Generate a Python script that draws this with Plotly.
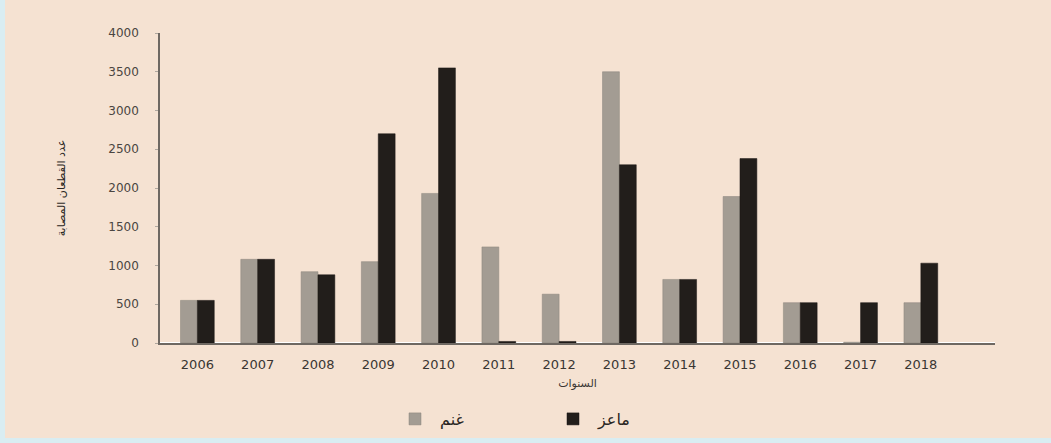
import plotly.graph_objects as go

years = ["2006", "2007", "2008", "2009", "2010", "2011", "2012",
         "2013", "2014", "2015", "2016", "2017", "2018"]
sheep = [550, 1080, 920, 1050, 1930, 1240, 630, 3500, 820, 1890, 520, 10, 520]
goats = [550, 1080, 880, 2700, 3550, 20, 20, 2300, 820, 2380, 520, 520, 1030]
y_ticks = [0, 500, 1000, 1500, 2000, 2500, 3000, 3500, 4000]

bg = "#f5e2d2"
L, R, T, B = 160, 56, 33, 100
PW, PH = 1051 - L - R, 443 - T - B

fig = go.Figure()
fig.add_trace(go.Bar(x=years, y=sheep, name="غنم",
                     marker=dict(color="#a39c93", line=dict(color="#8a847c", width=0.5))))
fig.add_trace(go.Bar(x=years, y=goats, name="ماعز",
                     marker=dict(color="#221e1b", line=dict(color="#1a1714", width=0.5))))

fig.update_layout(
    width=1051, height=443,
    margin=dict(l=L, r=R, t=T, b=B, autoexpand=False),
    paper_bgcolor=bg, plot_bgcolor=bg,
    barmode="group", bargap=0.44, bargroupgap=0,
    font=dict(family="DejaVu Sans, sans-serif", color="#3a3633", size=12),
    showlegend=True,
    legend=dict(orientation="h", x=(390 - L) / PW, xanchor="left",
                y=-(402 - (T + PH)) / PH, yanchor="top",
                font=dict(size=16, color="#2a2623"), bgcolor="rgba(0,0,0,0)",
                itemwidth=40, entrywidth=103, traceorder="normal"),
    xaxis=dict(type="category", range=[-0.62, 13.23], showgrid=False,
               showline=True, linecolor="#6e6862", linewidth=1.5,
               ticks="", ticklabelstandoff=9,
               tickfont=dict(size=13, color="#3a3633"),
               title=dict(text="السنوات", font=dict(size=11, color="#3a3633"), standoff=8)),
    yaxis=dict(range=[0, 4000], tickvals=y_ticks, showgrid=False,
               showline=True, linecolor="#6e6862", linewidth=1.5,
               ticks="outside", ticklen=3, tickcolor="#b0a89f",
               ticklabelstandoff=14,
               tickfont=dict(size=12, color="#4a4541"),
               title=dict(text="عدد القطعان المصابة", font=dict(size=11, color="#2a2623"), standoff=40)),
)

# light blue decorative edges of the page
fig.add_shape(type="rect", xref="paper", yref="paper",
              x0=-L / PW, x1=-(L - 5) / PW, y0=-B / PH, y1=1 + T / PH,
              fillcolor="#d9edf2", line=dict(width=0), layer="below")
fig.add_shape(type="rect", xref="paper", yref="paper",
              x0=-L / PW, x1=1 + R / PW, y0=-B / PH, y1=-(B - 5) / PH,
              fillcolor="#d9edf2", line=dict(width=0), layer="below")

fig.write_html("out.html")
